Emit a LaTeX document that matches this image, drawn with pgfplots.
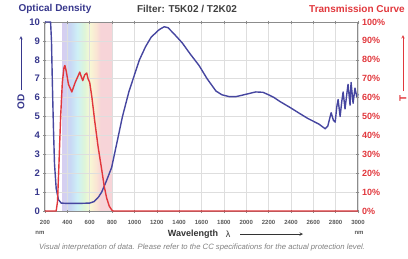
\documentclass[border=0pt]{standalone}
\usepackage{fontspec}
\setmainfont{Liberation Sans}
\usepackage{pgfplots}
\pgfplotsset{compat=1.18}
\definecolor{odblue}{RGB}{70,70,160}
\definecolor{tred}{RGB}{225,55,60}
\definecolor{labblue}{RGB}{55,55,140}
\definecolor{gridc}{RGB}{222,222,222}
\definecolor{axgray}{RGB}{140,140,140}
\definecolor{s1}{RGB}{214,206,240}
\definecolor{s2}{RGB}{200,216,245}
\definecolor{s3}{RGB}{206,240,246}
\definecolor{s4}{RGB}{222,245,216}
\definecolor{s5}{RGB}{248,248,212}
\definecolor{s6}{RGB}{250,228,212}
\definecolor{s7}{RGB}{247,212,216}
\pgfdeclarehorizontalshading{spectrum}{100bp}{color(0bp)=(s1); color(26bp)=(s1); color(33bp)=(s2); color(40bp)=(s3); color(47bp)=(s4); color(52bp)=(s5); color(59bp)=(s6); color(63bp)=(s7); color(75bp)=(s7); color(100bp)=(s7)}

\pgfplotstableread{
nm od
200 10
250 10
258 9
265 7
275 4.5
285 2.5
300 1.2
320 0.6
345 0.42
400 0.4
500 0.4
600 0.42
640 0.5
680 0.75
707 1.0
750 1.6
796 2.3
850 3.8
893 5.0
950 6.3
1000 7.2
1045 8.0
1100 8.7
1150 9.2
1222 9.6
1267 9.75
1300 9.7
1350 9.4
1427 8.9
1500 8.3
1578 7.7
1650 7.0
1729 6.35
1782 6.15
1850 6.05
1907 6.05
1980 6.15
2085 6.3
2150 6.28
2200 6.15
2250 6.0
2300 5.8
2400 5.45
2467 5.2
2550 4.9
2650 4.6
2707 4.35
2730 4.5
2760 5.2
2780 4.8
2796 4.7
2810 5.5
2822 5.9
2840 5.0
2855 5.8
2867 6.3
2884 5.4
2900 6.2
2911 6.7
2929 5.6
2938 6.8
2956 5.7
2973 6.5
2991 6.0
3000 6.2
}\odtable

\pgfplotstableread{
nm t
200 0
300 0
312 5
325 25
340 50
355 68
370 76
378 77
390 74
410 67
440 63
470 68
500 72
511 73.5
525 71
538 69
555 72
573 73
585 70
600 68
620 60
644 48
675 34
707 22
730 13
751 7
775 2.5
800 0.3
810 0
3000 0
}\ttable

\begin{document}
\begin{tikzpicture}
\begin{axis}[
  set layers,
  scale only axis, width=313pt, height=189pt,
  xmin=200, xmax=3000, ymin=0, ymax=10,
  clip=false,
  xtick={200,400,...,3000},
  ytick={0,1,...,10},
  grid=major,
  major grid style={gridc, line width=0.5pt},
  axis line style={axgray, line width=1pt},
  tick style={axgray, line width=0.5pt},
  tick align=center,
  major tick length=3pt,
  /pgf/number format/assume math mode=true,
  /pgf/number format/1000 sep={},
  yticklabel style={font=\bfseries\fontsize{9.5}{9.5}\selectfont, text=labblue},
  xticklabel style={font=\bfseries\fontsize{6}{6}\selectfont, text=gray!70!black, yshift=-4pt},
]
\begin{pgfonlayer}{axis background}
\shade[shading=spectrum] (axis cs:355,0) rectangle (axis cs:805,10);
\end{pgfonlayer}
\addplot[odblue, line width=1.4pt, line join=round] table[x=nm, y=od] {\odtable};
\end{axis}
\begin{axis}[
  scale only axis, width=313pt, height=189pt,
  xmin=200, xmax=3000, ymin=0, ymax=100,
  clip=false,
  axis x line=none,
  axis y line*=right,
  ytick={0,10,...,100},
  yticklabel={\pgfmathprintnumber{\tick}\%},
  axis line style={axgray, line width=1pt},
  tick style={axgray, line width=0.5pt},
  tick align=center,
  major tick length=3pt,
  /pgf/number format/assume math mode=true,
  yticklabel style={font=\bfseries\fontsize{9}{9}\selectfont, text=tred, xshift=-1pt},
]
\addplot[tred, line width=1.4pt, line join=round] table[x=nm, y=t] {\ttable};
\end{axis}
% titles
\node[font=\bfseries\fontsize{10}{10}\selectfont, text=labblue] at (10pt,202pt) {Optical Density};
\node[font=\bfseries\fontsize{10}{10}\selectfont, text=black!75] at (142pt,202pt) {Filter: T5K02 / T2K02};
\node[font=\bfseries\fontsize{10}{10}\selectfont, text=tred] at (312pt,202pt) {Transmission Curve};
% side labels
\node[font=\bfseries\fontsize{10}{10}\selectfont, text=labblue, rotate=90] at (-24pt,109pt) {OD};
\draw[labblue, line width=0.6pt, -stealth] (-24pt,121pt) -- (-24pt,175pt);
\node[font=\bfseries\fontsize{10}{10}\selectfont, text=tred, rotate=90] at (358pt,113pt) {T};
\draw[tred, line width=0.6pt, -stealth] (358pt,120pt) -- (358pt,176pt);
% x axis labels
\node[font=\bfseries\fontsize{6}{6}\selectfont, text=gray!70!black] at (-5pt,-22pt) {nm};
\node[font=\bfseries\fontsize{6}{6}\selectfont, text=gray!70!black] at (314pt,-22pt) {nm};
\node[font=\bfseries\fontsize{9}{9}\selectfont, text=black!80] at (148pt,-23pt) {Wavelength};
\node[font=\fontsize{9}{9}\selectfont, text=black!80] at (183pt,-23pt) {λ};
\draw[black!80, line width=0.6pt, -stealth] (195pt,-23pt) -- (258pt,-23pt);
\node[font=\itshape\fontsize{7.7}{8}\selectfont, text=gray] at (157pt,-37pt) {Visual interpretation of data. Please refer to the CC specifications for the actual protection level.};
\pgfresetboundingbox
\useasboundingbox (-45pt,-47pt) rectangle (363pt,211pt);
\end{tikzpicture}
\end{document}
